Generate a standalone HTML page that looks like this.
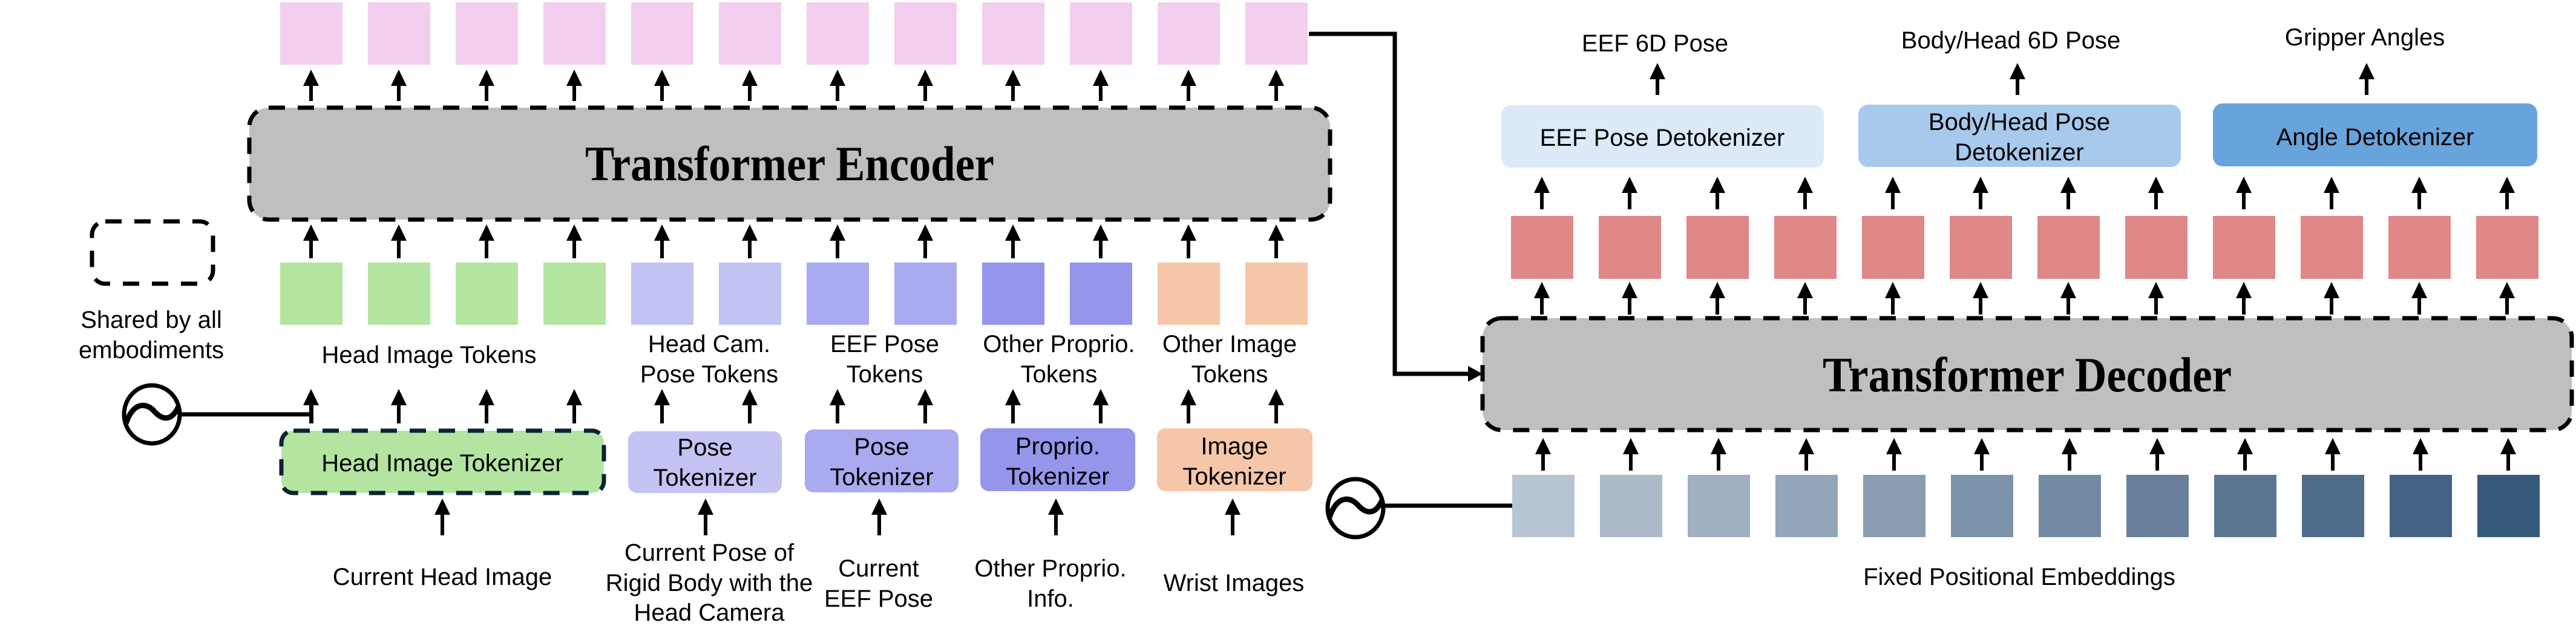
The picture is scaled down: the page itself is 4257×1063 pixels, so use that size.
<!DOCTYPE html>
<html><head><meta charset="utf-8"><style>
html,body{margin:0;padding:0;background:#fff;}
svg{display:block;}
text{font-family:"Liberation Sans",Arial,sans-serif;fill:#000;}
.t{font-size:40px;text-anchor:middle;}
.ttl{font-family:"Liberation Serif","Times New Roman",serif;font-weight:bold;font-size:82px;text-anchor:middle;}
</style></head><body>
<svg id="svg" width="4257" height="1063" viewBox="0 0 4257 1063" xmlns="http://www.w3.org/2000/svg">
<g id="tokens"></g>
<g id="arrows"></g>

<rect x="412" y="178" width="1786" height="185" rx="32" fill="#bfbfbf" stroke="#000" stroke-width="7" stroke-dasharray="27 21"/>
<text class="ttl" x="1305" y="298" textLength="676" lengthAdjust="spacingAndGlyphs">Transformer Encoder</text>

<rect x="2450" y="526" width="1800" height="185" rx="32" fill="#bfbfbf" stroke="#000" stroke-width="7" stroke-dasharray="27 21"/>
<text class="ttl" x="3350" y="647" textLength="676" lengthAdjust="spacingAndGlyphs">Transformer Decoder</text>

<rect x="152" y="366" width="200" height="103" rx="22" fill="none" stroke="#000" stroke-width="7" stroke-dasharray="27 21"/>
<text class="t" x="250" y="542" font-size="38">Shared by all</text>
<text class="t" x="250" y="592" font-size="38">embodiments</text>

<rect x="465" y="712" width="533" height="103" rx="20" fill="#b3e5a0" stroke="#0d2233" stroke-width="7" stroke-dasharray="27 21"/>
<text class="t" x="731" y="779">Head Image Tokenizer</text>
<rect x="1038" y="713" width="254" height="102" rx="14" fill="#c3c3f3"/>
<text class="t" x="1165" y="753">Pose</text>
<text class="t" x="1165" y="803">Tokenizer</text>
<rect x="1330" y="710" width="254" height="104" rx="14" fill="#aaaaf0"/>
<text class="t" x="1457" y="752">Pose</text>
<text class="t" x="1457" y="802">Tokenizer</text>
<rect x="1620" y="708" width="256" height="104" rx="14" fill="#9595ec"/>
<text class="t" x="1748" y="751">Proprio.</text>
<text class="t" x="1748" y="801">Tokenizer</text>
<rect x="1912" y="708" width="257" height="104" rx="14" fill="#f5c6a8"/>
<text class="t" x="2040" y="751">Image</text>
<text class="t" x="2040" y="801">Tokenizer</text>

<text class="t" x="709" y="600">Head Image Tokens</text>
<text class="t" x="1172" y="582">Head Cam.</text>
<text class="t" x="1172" y="632">Pose Tokens</text>
<text class="t" x="1462" y="582">EEF Pose</text>
<text class="t" x="1462" y="632">Tokens</text>
<text class="t" x="1750" y="582">Other Proprio.</text>
<text class="t" x="1750" y="632">Tokens</text>
<text class="t" x="2032" y="582">Other Image</text>
<text class="t" x="2032" y="632">Tokens</text>

<text class="t" x="731" y="967">Current Head Image</text>
<text class="t" x="1172" y="927">Current Pose of</text>
<text class="t" x="1172" y="977">Rigid Body with the</text>
<text class="t" x="1172" y="1026">Head Camera</text>
<text class="t" x="1452" y="953">Current</text>
<text class="t" x="1452" y="1003">EEF Pose</text>
<text class="t" x="1736" y="953">Other Proprio.</text>
<text class="t" x="1736" y="1003">Info.</text>
<text class="t" x="2039" y="977">Wrist Images</text>

<rect x="2481" y="174" width="533" height="103" rx="16" fill="#dce9f6"/>
<text class="t" x="2747" y="241">EEF Pose Detokenizer</text>
<rect x="3071" y="173" width="533" height="103" rx="16" fill="#a7c9ec"/>
<text class="t" x="3337" y="215">Body/Head Pose</text>
<text class="t" x="3337" y="265">Detokenizer</text>
<rect x="3657" y="171" width="536" height="104" rx="16" fill="#68a4dc"/>
<text class="t" x="3925" y="240">Angle Detokenizer</text>

<text class="t" x="2735" y="85">EEF 6D Pose</text>
<text class="t" x="3323" y="80">Body/Head 6D Pose</text>
<text class="t" x="3908" y="75">Gripper Angles</text>
<text class="t" x="3337" y="967">Fixed Positional Embeddings</text>

<polyline points="2163,56 2305,56 2305,618 2430,618" fill="none" stroke="#000" stroke-width="7"/>
<polygon points="2450,618 2426,605 2426,631" fill="#000"/>

<g>
<ellipse cx="251" cy="685" rx="46" ry="48" fill="none" stroke="#000" stroke-width="7"/>
<path d="M208,700 C222,660 245,668 255,680 C266,692 282,700 295,672" fill="none" stroke="#000" stroke-width="9"/>
<line x1="297" y1="685" x2="515" y2="685" stroke="#000" stroke-width="7"/>
<line x1="515" y1="670" x2="515" y2="700" stroke="#000" stroke-width="6"/>
</g>
<g>
<ellipse cx="2240" cy="840" rx="46" ry="48" fill="none" stroke="#000" stroke-width="7"/>
<path d="M2197,855 C2211,815 2234,823 2244,835 C2255,847 2271,855 2284,827" fill="none" stroke="#000" stroke-width="9"/>
<line x1="2286" y1="836" x2="2499" y2="836" stroke="#000" stroke-width="7"/>
</g>
</svg>
<script>
const NS="http://www.w3.org/2000/svg";
const tokG=document.getElementById('tokens');
const arG=document.getElementById('arrows');
const leftColors=['#b3e5a0','#b3e5a0','#b3e5a0','#b3e5a0','#c3c3f3','#c3c3f3','#aaaaf0','#aaaaf0','#9595ec','#9595ec','#f5c6a8','#f5c6a8'];
const posColors=['#b7c4d1','#abb9c8','#a0b0c1','#94a6b9','#899cb1','#7d93a9','#728aa2','#677f9a','#5b7693','#506c8b','#446384','#37597c'];
function rect(x,y,w,h,fill){const r=document.createElementNS(NS,'rect');r.setAttribute('x',x);r.setAttribute('y',y);r.setAttribute('width',w);r.setAttribute('height',h);r.setAttribute('fill',fill);tokG.appendChild(r);return r;}
function arrow(x,y1,y2){const g=document.createElementNS(NS,'g');
const l=document.createElementNS(NS,'line');l.setAttribute('x1',x);l.setAttribute('x2',x);l.setAttribute('y1',y2);l.setAttribute('y2',y1+20);l.setAttribute('stroke','#000');l.setAttribute('stroke-width','6');g.appendChild(l);
const p=document.createElementNS(NS,'polygon');p.setAttribute('points',`${x},${y1} ${x-13},${y1+27} ${x+13},${y1+27}`);p.setAttribute('fill','#000');g.appendChild(p);
arG.appendChild(g);return g;}
for(let i=0;i<12;i++){
  const x=463+145*i, cx=x+51;
  let r=rect(x,4,103,103,'#f2cfee');
  
  
  r=rect(x,434,103,103,leftColors[i]);
  
  
  let a=arrow(cx,115,167);
  
  
  a=arrow(cx,371,427);
  
  
  a=arrow(cx,643,700);
  
  
  const rx=2497+145*i, rcx=rx+51;
  r=rect(rx,357,103,104,'#e08787');
  
  
  r=rect(rx+2,785,103,103,posColors[i]);
  
  
  a=arrow(rcx,292,346);
  
  
  a=arrow(rcx,466,520);
  
  
  a=arrow(rcx+2,724,778);
  
  
}
const inX=[731,1166,1453,1745,2037];
inX.forEach(x=>{const a=arrow(x,824,885);

});
const outX=[2739,3334,3911];
outX.forEach(x=>{const a=arrow(x,104,157);

});
</script>
</body></html>
